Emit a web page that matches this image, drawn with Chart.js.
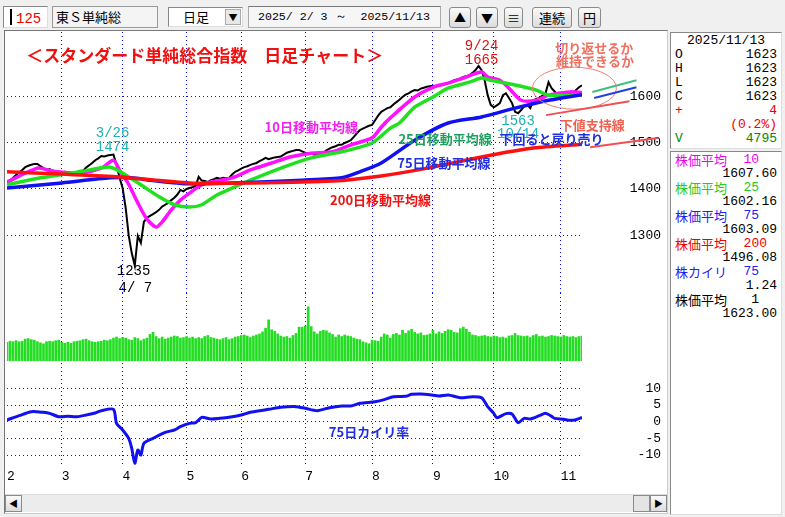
<!DOCTYPE html>
<html><head><meta charset="utf-8">
<script src="https://cdn.jsdelivr.net/npm/chart.js@4"></script>
<style>
body{margin:0;width:785px;height:517px;background:#f0f0f0;position:relative;overflow:hidden;font-family:"Noto Sans CJK JP",sans-serif;}
.a{position:absolute;box-sizing:border-box;}
.box{background:#fff;border:1px solid #888;border-right-color:#ddd;border-bottom-color:#ddd;}
.btn{background:linear-gradient(#fafafa,#dcdcdc);border:1px solid #8a8a8a;border-radius:3px;font-size:13px;text-align:center;line-height:19px;}
.mono{font-family:"Liberation Mono",monospace;font-size:13px;}
.row{position:absolute;left:4px;right:4px;height:14px;line-height:14px;display:flex;justify-content:space-between;}
canvas{position:absolute;}
</style></head><body>
<!-- toolbar -->
<div class="a box" style="left:3px;top:6px;width:45px;height:22px;font-size:14px;line-height:20px;"><span style="display:inline-block;width:2px;height:16px;background:#000;margin:2px 4px 0 6px;vertical-align:top"></span><span class="mono" style="color:#e00;font-size:14px">125</span></div>
<div class="a" style="left:52px;top:6px;width:106px;height:22px;border:1px solid #999;background:#f4f4f4;font-size:13px;line-height:20px;padding-left:3px">東Ｓ単純総</div>
<div class="a box" style="left:168px;top:7px;width:75px;height:20px;font-size:13px;line-height:18px;padding-left:14px">日足<div class="a" style="right:1px;top:1px;width:16px;height:16px;background:#e8e8e8;border:1px solid #aaa;font-size:9px;line-height:15px;text-align:center">▼</div></div>
<div class="a mono" style="left:248px;top:6px;width:193px;height:22px;border:1px solid #aaa;border-top-color:#777;background:#f6f6f6;line-height:20px;padding-left:9px;font-size:11.6px;white-space:pre">2025/ 2/ 3 ～  2025/11/13</div>
<div class="a btn" style="left:449px;top:7px;width:22px;height:21px;font-size:12px">▲</div>
<div class="a btn" style="left:476px;top:7px;width:22px;height:21px;font-size:12px">▼</div>
<div class="a btn" style="left:504px;top:7px;width:19px;height:21px">≡</div>
<div class="a btn" style="left:532px;top:7px;width:40px;height:21px">連続</div>
<div class="a btn" style="left:578px;top:7px;width:23px;height:21px">円</div>
<!-- main panel -->
<div class="a" style="left:4px;top:30px;width:664px;height:484px;background:#fff;border:1px solid #777;border-right-color:#ccc;border-bottom-color:#ccc"></div>
<div class="a" style="left:5px;top:494px;width:662px;height:18px;background:#ececec;border-top:1px solid #ddd"></div>
<div class="a btn" style="left:5px;top:495px;width:17px;height:17px;font-size:9px;line-height:15px;border-radius:0">◀</div>
<div class="a btn" style="left:633px;top:495px;width:17px;height:17px;border-radius:0;background:#e4e4e4"></div>
<div class="a btn" style="left:650px;top:495px;width:17px;height:17px;font-size:9px;line-height:15px;border-radius:0">▶</div>
<canvas id="cp" style="left:5px;top:31px" width="662" height="262"></canvas>
<canvas id="cv" style="left:5px;top:293px" width="662" height="70"></canvas>
<canvas id="cd" style="left:5px;top:363px" width="662" height="122"></canvas>
<!-- right panel -->
<div class="a box mono" style="left:670px;top:32px;width:112px;height:117px;">
<div class="row" style="top:1px;justify-content:center">2025/11/13</div>
<div class="row" style="top:15px"><span>O</span><span>1623</span></div>
<div class="row" style="top:29px"><span>H</span><span>1623</span></div>
<div class="row" style="top:43px"><span>L</span><span>1623</span></div>
<div class="row" style="top:57px"><span>C</span><span>1623</span></div>
<div class="row" style="top:71px;color:#e00"><span>+</span><span>4</span></div>
<div class="row" style="top:85px;color:#e00"><span></span><span>(0.2%)</span></div>
<div class="row" style="top:99px;color:#080"><span>V</span><span>4795</span></div>
</div>
<div class="a box mono" style="left:670px;top:151px;width:112px;height:364px;">
<div class="row" style="top:1px;color:#e0e"><span style="font-family:'Noto Sans CJK JP'">株価平均</span><span style="margin-right:18px">10</span></div>
<div class="row" style="top:15px;justify-content:flex-end">1607.60</div>
<div class="row" style="top:29px;color:#2c2"><span style="font-family:'Noto Sans CJK JP'">株価平均</span><span style="margin-right:18px">25</span></div>
<div class="row" style="top:43px;justify-content:flex-end">1602.16</div>
<div class="row" style="top:57px;color:#22e"><span style="font-family:'Noto Sans CJK JP'">株価平均</span><span style="margin-right:18px">75</span></div>
<div class="row" style="top:71px;justify-content:flex-end">1603.09</div>
<div class="row" style="top:85px;color:#e00"><span style="font-family:'Noto Sans CJK JP'">株価平均</span><span style="margin-right:10px">200</span></div>
<div class="row" style="top:99px;justify-content:flex-end">1496.08</div>
<div class="row" style="top:113px;color:#22e"><span style="font-family:'Noto Sans CJK JP'">株カイリ</span><span style="margin-right:18px">75</span></div>
<div class="row" style="top:127px;justify-content:flex-end">1.24</div>
<div class="row" style="top:141px"><span style="font-family:'Noto Sans CJK JP'">株価平均</span><span style="margin-right:18px">1</span></div>
<div class="row" style="top:155px;justify-content:flex-end">1623.00</div>
</div>
<script>
// ---- data ----
const monthIdx = [0,18,38,59,77,98,120,140,160,182];
const monthLabels = ['2','3','4','5','6','7','8','9','10','11'];
const priceTicks = [1300,1400,1500,1600];
const devTicks = [-10,-5,0,5,10];
const closes = [
1411,1418,1424,1430,1436,1441,1447,1450,1452,1454,
1454,1449,1445,1441,1443,1439,1437,1435,1432,1437,
1436,1433,1434,1436,1439,1439,1446,1451,1456,1462,
1466,1471,1470,1472,1473,1474,1452,1424,1402,1360,
1300,1262,1235,1299,1284,1329,1338,1342,1346,1350,
1355,1362,1366,1370,1376,1381,1388,1398,1395,1400,
1402,1404,1406,1426,1418,1417,1415,1419,1421,1424,
1422,1424,1423,1424,1431,1437,1440,1444,1447,1449,
1452,1454,1456,1460,1463,1467,1464,1466,1468,1469,
1470,1474,1478,1480,1482,1484,1484,1481,1478,1477,
1476,1474,1472,1473,1478,1483,1487,1490,1492,1495,
1495,1499,1502,1505,1512,1520,1527,1530,1533,1536,
1538,1548,1558,1566,1570,1574,1576,1582,1587,1592,
1598,1603,1606,1610,1613,1612,1616,1618,1620,1621,
1622,1621,1623,1624,1626,1628,1631,1634,1636,1638,
1641,1643,1645,1650,1656,1665,1656,1634,1602,1581,
1576,1580,1585,1602,1606,1596,1585,1566,1563,1570,
1578,1581,1574,1591,1594,1596,1601,1606,1630,1617,
1610,1602,1606,1607,1609,1605,1602,1613,1619,1623];
const ma10 = [[0,1415],[10,1445],[14,1440],[17,1437],[24,1434],[31,1445],[35,1462],[37,1440],[40,1410],[43,1370],[46,1335],[49,1318],[51,1329],[54,1355],[57,1376],[60,1391],[64,1409],[67,1415],[74,1424],[80,1441],[87,1456],[93,1469],[100,1477],[107,1480],[113,1495],[120,1510],[123,1533],[126,1553],[134,1598],[140,1619],[145,1628],[150,1639],[156,1652],[158,1641],[162,1634],[165,1617],[169,1591],[174,1591],[178,1602],[185,1609],[189,1607.6]];
const ma25 = [[0,1409],[11,1424],[24,1437],[34,1447],[39,1430],[44,1409],[50,1383],[55,1366],[60,1361],[64,1366],[69,1387],[74,1402],[80,1419],[90,1445],[100,1467],[110,1480],[120,1499],[126,1531],[129,1542],[134,1576],[140,1598],[145,1617],[152,1630],[156,1639],[159,1634],[167,1624],[174,1613],[178,1602],[189,1602.16]];
const ma75 = [[0,1402],[18,1413],[34,1424],[41,1424],[47,1419],[60,1411],[74,1413],[97,1419],[110,1424],[116,1437],[123,1456],[134,1505],[145,1542],[156,1555],[167,1574],[178,1591],[189,1603.09]];
const ma200 = [[0,1437],[18,1432],[37,1426],[60,1413],[80,1413],[107,1417],[123,1428],[140,1447],[156,1469],[173,1488],[189,1496.08]];
const volumes = [
3600,3800,3700,3900,3700,3800,4200,4300,4100,4000,
3700,3500,3300,3700,3800,3700,3900,4000,3600,3400,
3600,3400,3700,3800,3900,4100,4200,3900,3700,3600,
3700,3800,4000,3900,4100,4400,4600,4300,4500,4400,
4100,4000,4500,4300,3900,4200,4400,5100,5500,4700,
4300,4600,4200,4400,4600,4800,4700,4400,4500,4700,
4400,4600,4300,4500,4300,4700,4900,4500,4400,4200,
4100,4300,4500,4100,4300,4600,4700,4900,5000,4800,
4500,4800,5000,5200,5600,6300,7900,6000,5700,5200,
4800,4600,4700,4400,4900,5300,6500,6500,6700,10400,
6600,5600,5200,5700,5900,5800,5400,5100,4600,5000,
4700,5000,4800,4700,4400,4200,4100,3700,3500,3300,
4000,3900,3800,4600,5200,5000,4400,5100,5300,5000,
5900,5300,5800,6100,5500,5200,5400,4900,5000,5200,
5900,5200,5600,5300,5700,6000,5900,5500,5400,6200,
6500,6100,5500,5000,4900,4700,4800,4900,4700,4600,
4800,4700,4500,4600,4400,4800,4900,5300,4900,4800,
4700,4800,4500,4900,5100,4700,4800,4600,4700,4900,
4800,4700,4600,4900,4700,4600,4700,4500,4700,4795];
const deviation = [[0,0.5],[4,1.8],[8,3.0],[12,2.8],[14,2.5],[17,1.5],[20,1.6],[23,1.5],[26,2.0],[29,2.6],[31,3.3],[35,3.7],[36,-0.5],[38,-2.5],[40,-5],[41,-8],[42,-12.5],[43,-8.5],[44,-10],[45,-6.5],[48,-5],[52,-3.2],[55,-2.5],[57,-1.5],[60,-0.5],[62,-0.3],[64,1.3],[67,0.8],[70,1.0],[73,1.3],[77,2.0],[80,2.8],[83,3.3],[86,3.7],[90,4.3],[95,4.5],[98,4.0],[102,3.3],[106,4.2],[110,4.7],[113,4.7],[116,5.5],[121,6.0],[124,6.6],[127,7.5],[131,7.6],[133,8.2],[136,8.3],[139,8.1],[142,7.7],[145,8.0],[149,7.2],[153,7.5],[156,7.2],[158,4.5],[160,2.5],[161,1.2],[164,2.4],[166,2.3],[168,-0.3],[170,1.0],[172,0.8],[175,1.8],[177,2.5],[179,1.6],[180,1.0],[183,0.7],[185,0.4],[187,0.6],[189,1.24]];

// ---- helpers ----
const X0=0, X1=189;
const gridBlue='#0a0aff';
function xScale(showLabels){
  return {type:'linear',min:X0,max:X1,offset:false,
    afterBuildTicks:s=>{s.ticks=monthIdx.map(v=>({value:v}));},
    afterFit:s=>{s.height=showLabels?18:0;s.paddingLeft=0;s.paddingRight=0;},
    ticks:{display:showLabels,autoSkip:false,maxRotation:0,align:'start',padding:2,color:'#000',font:{family:'Liberation Mono',size:13},
      callback:(v,i)=>monthLabels[i]},
    grid:{drawTicks:false,offset:false,color:c=>c.index===0?'rgba(0,0,0,0)':gridBlue,lineWidth:1},
    border:{display:false,dash:[1,3]}};
}
function yScale(min,max,ticks){
  return {type:'linear',position:'right',min,max,
    afterFit:s=>{s.width=79;s.paddingTop=0;s.paddingBottom=0;},
    afterBuildTicks:s=>{if(ticks)s.ticks=ticks.map(v=>({value:v}));else s.ticks=[];},
    ticks:{display:!!ticks,crossAlign:'far',padding:6,color:'#000',font:{family:'Liberation Mono',size:13},callback:v=>String(v)},
    grid:{drawTicks:false,color:ticks?gridBlue:'rgba(0,0,0,0)'},
    border:{display:false,dash:[1,3]}};
}
const base={responsive:false,animation:false,plugins:{legend:{display:false},tooltip:{enabled:false}},layout:{padding:{left:2,right:6,top:0,bottom:0}}};
function line(data,color,w){return {type:'line',data,borderColor:color,borderWidth:w,pointRadius:0,tension:0.25,fill:false};}

// ---- annotations ----
const priceNotes=[
 [65,1688,'＜スタンダード単純総合指数　日足チャート＞','#f01010','bold 17px "Noto Sans CJK JP"'],
 [34.7,1520,'3/26','#20b0b0','14px "Liberation Mono"'],
 [34.7,1490,'1474','#20b0b0','14px "Liberation Mono"'],
 [41.6,1222,'1235','#000','14px "Liberation Mono"'],
 [42.2,1187,'4/ 7','#000','14px "Liberation Mono"'],
 [156,1707,'9/24','#e01010','14px "Liberation Mono"'],
 [156,1677,'1665','#e01010','14px "Liberation Mono"'],
 [168,1545,'1563','#20b0b0','14px "Liberation Mono"'],
 [168,1518,'10/14','#20b0b0','14px "Liberation Mono"'],
 [193,1703,'切り返せるか','#f07060','bold 13px "Noto Sans CJK JP"'],
 [193.3,1675,'維持できるか','#f07060','bold 13px "Noto Sans CJK JP"'],
 [100,1533,'10日移動平均線','#f020f0','bold 13px "Noto Sans CJK JP"'],
 [144,1508,'25日移動平均線','#20a060','bold 13px "Noto Sans CJK JP"'],
 [179,1508,'下回ると戻り売り','#2030e0','bold 13px "Noto Sans CJK JP"'],
 [143.6,1456,'75日移動平均線','#2030e0','bold 13px "Noto Sans CJK JP"'],
 [122.8,1376,'200日移動平均線','#f01010','bold 13px "Noto Sans CJK JP"'],
 [192.4,1538,'下値支持線','#f06050','bold 13px "Noto Sans CJK JP"']];
const priceSegs=[
 [192.4,1609,206.9,1634,'#40c080'],
 [193,1596,206.9,1619,'#2040e0'],
 [177.2,1559,204.6,1589,'#f05050'],
 [191.7,1490,213.9,1510,'#f05050']];
const ellipse=[186.5,1617];
const devNotes=[[119,-3.1,'75日カイリ率','#2030e0','bold 13px "Noto Sans CJK JP"']];

function notesPlugin(notes,segs,ell){
  return {id:'notes',afterDatasetsDraw(ch){
    const c=ch.ctx,xs=ch.scales.x,ys=ch.scales.y;
    c.save();
    if(ell){c.strokeStyle='#f08070';c.lineWidth=1;c.beginPath();
      c.ellipse(xs.getPixelForValue(ell[0]),ys.getPixelForValue(ell[1]),42,21,0,0,Math.PI*2);c.stroke();}
    (segs||[]).forEach(s=>{c.strokeStyle=s[4];c.lineWidth=2;c.beginPath();
      c.moveTo(xs.getPixelForValue(s[0]),ys.getPixelForValue(s[1]));
      c.lineTo(xs.getPixelForValue(s[2]),ys.getPixelForValue(s[3]));c.stroke();});
    c.textAlign='center';c.textBaseline='middle';
    notes.forEach(n=>{c.font=n[4];c.fillStyle=n[3];c.fillText(n[2],xs.getPixelForValue(n[0]),ys.getPixelForValue(n[1]));});
    c.restore();
  }};
}

// ---- price chart ----
new Chart(document.getElementById('cp'),{
  type:'line',
  data:{datasets:[
    line(ma200.map(p=>({x:p[0],y:p[1]})),'#ff1010',3.5),
    line(ma75.map(p=>({x:p[0],y:p[1]})),'#1010f0',3.5),
    line(ma25.map(p=>({x:p[0],y:p[1]})),'#20e020',3.5),
    line(ma10.map(p=>({x:p[0],y:p[1]})),'#ff10ff',3.5),
    Object.assign(line(closes.map((v,i)=>({x:i,y:v})),'#000',2),{tension:0})
  ]},
  options:Object.assign({},base,{layout:{padding:{left:2,right:6,top:1,bottom:0}},
    scales:{x:xScale(false),y:yScale(1176,1738,priceTicks)}}),
  plugins:[notesPlugin(priceNotes,priceSegs,ellipse)]
});
// ---- volume chart ----
new Chart(document.getElementById('cv'),{
  type:'bar',
  data:{datasets:[{data:volumes.map((v,i)=>({x:i,y:v})),backgroundColor:'#22dd22',barThickness:2}]},
  options:Object.assign({},base,{layout:{padding:{left:2,right:6,top:0,bottom:2}},
    scales:{x:xScale(false),y:yScale(0,13056,null)}})
});
// ---- deviation chart ----
new Chart(document.getElementById('cd'),{
  type:'line',
  data:{datasets:[line(deviation.map(p=>({x:p[0],y:p[1]})),'#1010f0',3)]},
  options:Object.assign({},base,{scales:{x:xScale(true),y:yScale(-13.6,17.6,devTicks)}}),
  plugins:[notesPlugin(devNotes,null,null)]
});
</script>
</body></html>
